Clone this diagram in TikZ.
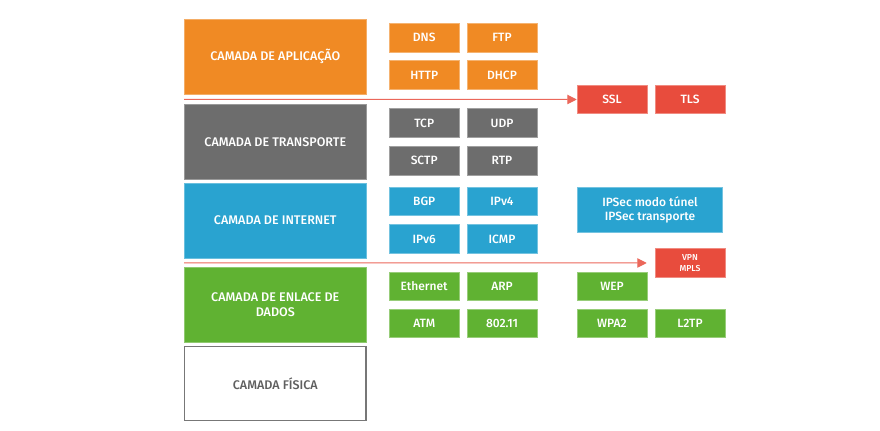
\documentclass[tikz,border=0pt]{standalone}
\usepackage{fontspec}
\setmainfont{Fira Sans}[UprightFont=* Medium]
\usepackage{xcolor}
\usepackage{tikz}
\usetikzlibrary{arrows.meta}
\definecolor{appOrange}{RGB}{240,138,36}
\definecolor{trnGray}{RGB}{109,109,109}
\definecolor{netBlue}{RGB}{41,163,208}
\definecolor{lnkGreen}{RGB}{96,178,50}
\definecolor{secRed}{RGB}{232,76,61}
\definecolor{phyGray}{RGB}{119,119,119}

\begin{document}
\begin{tikzpicture}[x=0.75pt,y=0.75pt,yscale=-1,xscale=1,
  layer/.style={minimum width=137pt, minimum height=56.25pt, inner sep=0pt, align=center, text=white, font=\fontsize{9.4}{11.25}\selectfont},
  proto/.style={minimum width=52.5pt, minimum height=21.4pt, inner sep=0pt, align=center, text=white, font=\fontsize{9}{10.75}\selectfont},
  link/.style={draw=secRed!85, line width=0.75pt, -{Triangle[length=7pt,width=7pt]}}]
\useasboundingbox (0,0) rectangle (880,431);

%Layers
\node [layer, fill=appOrange, draw=appOrange!70!white, line width=0.4pt] (app) at (275.3,56.5) {CAMADA DE APLICAÇÃO};
\node [layer, fill=trnGray, draw=trnGray!70!white, line width=0.4pt] (trn) at (275.3,141.8) {CAMADA DE TRANSPORTE};
\node [layer, fill=netBlue, draw=netBlue!70!white, line width=0.4pt] (net) at (275.3,220.5) {CAMADA DE INTERNET};
\node [layer, fill=lnkGreen, draw=lnkGreen!70!white, line width=0.4pt] (lnk) at (275.3,304.8) {CAMADA DE ENLACE DE\\DADOS};
\node [layer, fill=white, draw=phyGray, line width=1pt, minimum width=136pt, minimum height=55.25pt, text=phyGray!80!black] (phy) at (275.3,383.4) {CAMADA FÍSICA};

%Application protocols
\node [proto, fill=appOrange, draw=appOrange!65!white, line width=0.4pt] (dns) at (424.2,37.7) {DNS};
\node [proto, fill=appOrange, draw=appOrange!65!white, line width=0.4pt] (ftp) at (502,37.7) {FTP};
\node [proto, fill=appOrange, draw=appOrange!65!white, line width=0.4pt] (http) at (424.2,75) {HTTP};
\node [proto, fill=appOrange, draw=appOrange!65!white, line width=0.4pt] (dhcp) at (502,75) {DHCP};

%Transport protocols
\node [proto, fill=trnGray, draw=trnGray!65!white, line width=0.4pt] (tcp) at (424.2,123) {TCP};
\node [proto, fill=trnGray, draw=trnGray!65!white, line width=0.4pt] (udp) at (502,123) {UDP};
\node [proto, fill=trnGray, draw=trnGray!65!white, line width=0.4pt] (sctp) at (424.2,160.5) {SCTP};
\node [proto, fill=trnGray, draw=trnGray!65!white, line width=0.4pt] (rtp) at (502,160.5) {RTP};

%Internet protocols
\node [proto, fill=netBlue, draw=netBlue!65!white, line width=0.4pt] (bgp) at (424.2,201.3) {BGP};
\node [proto, fill=netBlue, draw=netBlue!65!white, line width=0.4pt] (ipv4) at (502,201.3) {IPv4};
\node [proto, fill=netBlue, draw=netBlue!65!white, line width=0.4pt] (ipv6) at (424.2,239) {IPv6};
\node [proto, fill=netBlue, draw=netBlue!65!white, line width=0.4pt] (icmp) at (502,239) {ICMP};

%Link protocols
\node [proto, fill=lnkGreen, draw=lnkGreen!65!white, line width=0.4pt] (eth) at (424.2,286.2) {Ethernet};
\node [proto, fill=lnkGreen, draw=lnkGreen!65!white, line width=0.4pt] (arp) at (502,286.2) {ARP};
\node [proto, fill=lnkGreen, draw=lnkGreen!65!white, line width=0.4pt] (atm) at (424.2,323.3) {ATM};
\node [proto, fill=lnkGreen, draw=lnkGreen!65!white, line width=0.4pt] (wifi) at (502,323.3) {802.11};

%Security protocols
\node [proto, fill=secRed, draw=secRed!65!white, line width=0.4pt] (ssl) at (612,99.5) {SSL};
\node [proto, fill=secRed, draw=secRed!65!white, line width=0.4pt] (tls) at (690,99.5) {TLS};
\node [proto, fill=netBlue, draw=netBlue!65!white, line width=0.4pt, minimum width=109pt, minimum height=33.5pt] (ipsec) at (650,210) {IPSec modo túnel\\IPSec transporte};
\node [proto, fill=secRed, draw=secRed!65!white, line width=0.4pt, font=\fontsize{6.5}{8.25}\selectfont] (vpn) at (690,263) {VPN\\MPLS};
\node [proto, fill=lnkGreen, draw=lnkGreen!65!white, line width=0.4pt] (wep) at (612,286.2) {WEP};
\node [proto, fill=lnkGreen, draw=lnkGreen!65!white, line width=0.4pt] (wpa) at (612,323.3) {WPA2};
\node [proto, fill=lnkGreen, draw=lnkGreen!65!white, line width=0.4pt] (l2tp) at (690,323.3) {L2TP};

%Arrows
\coordinate (s1) at (184,99.3);
\draw [link] (s1) -- (ssl.west);
\coordinate (s2) at (184,262.8);
\draw [link, shorten >=6pt] (s2) -- (vpn.west);
\end{tikzpicture}
\end{document}
